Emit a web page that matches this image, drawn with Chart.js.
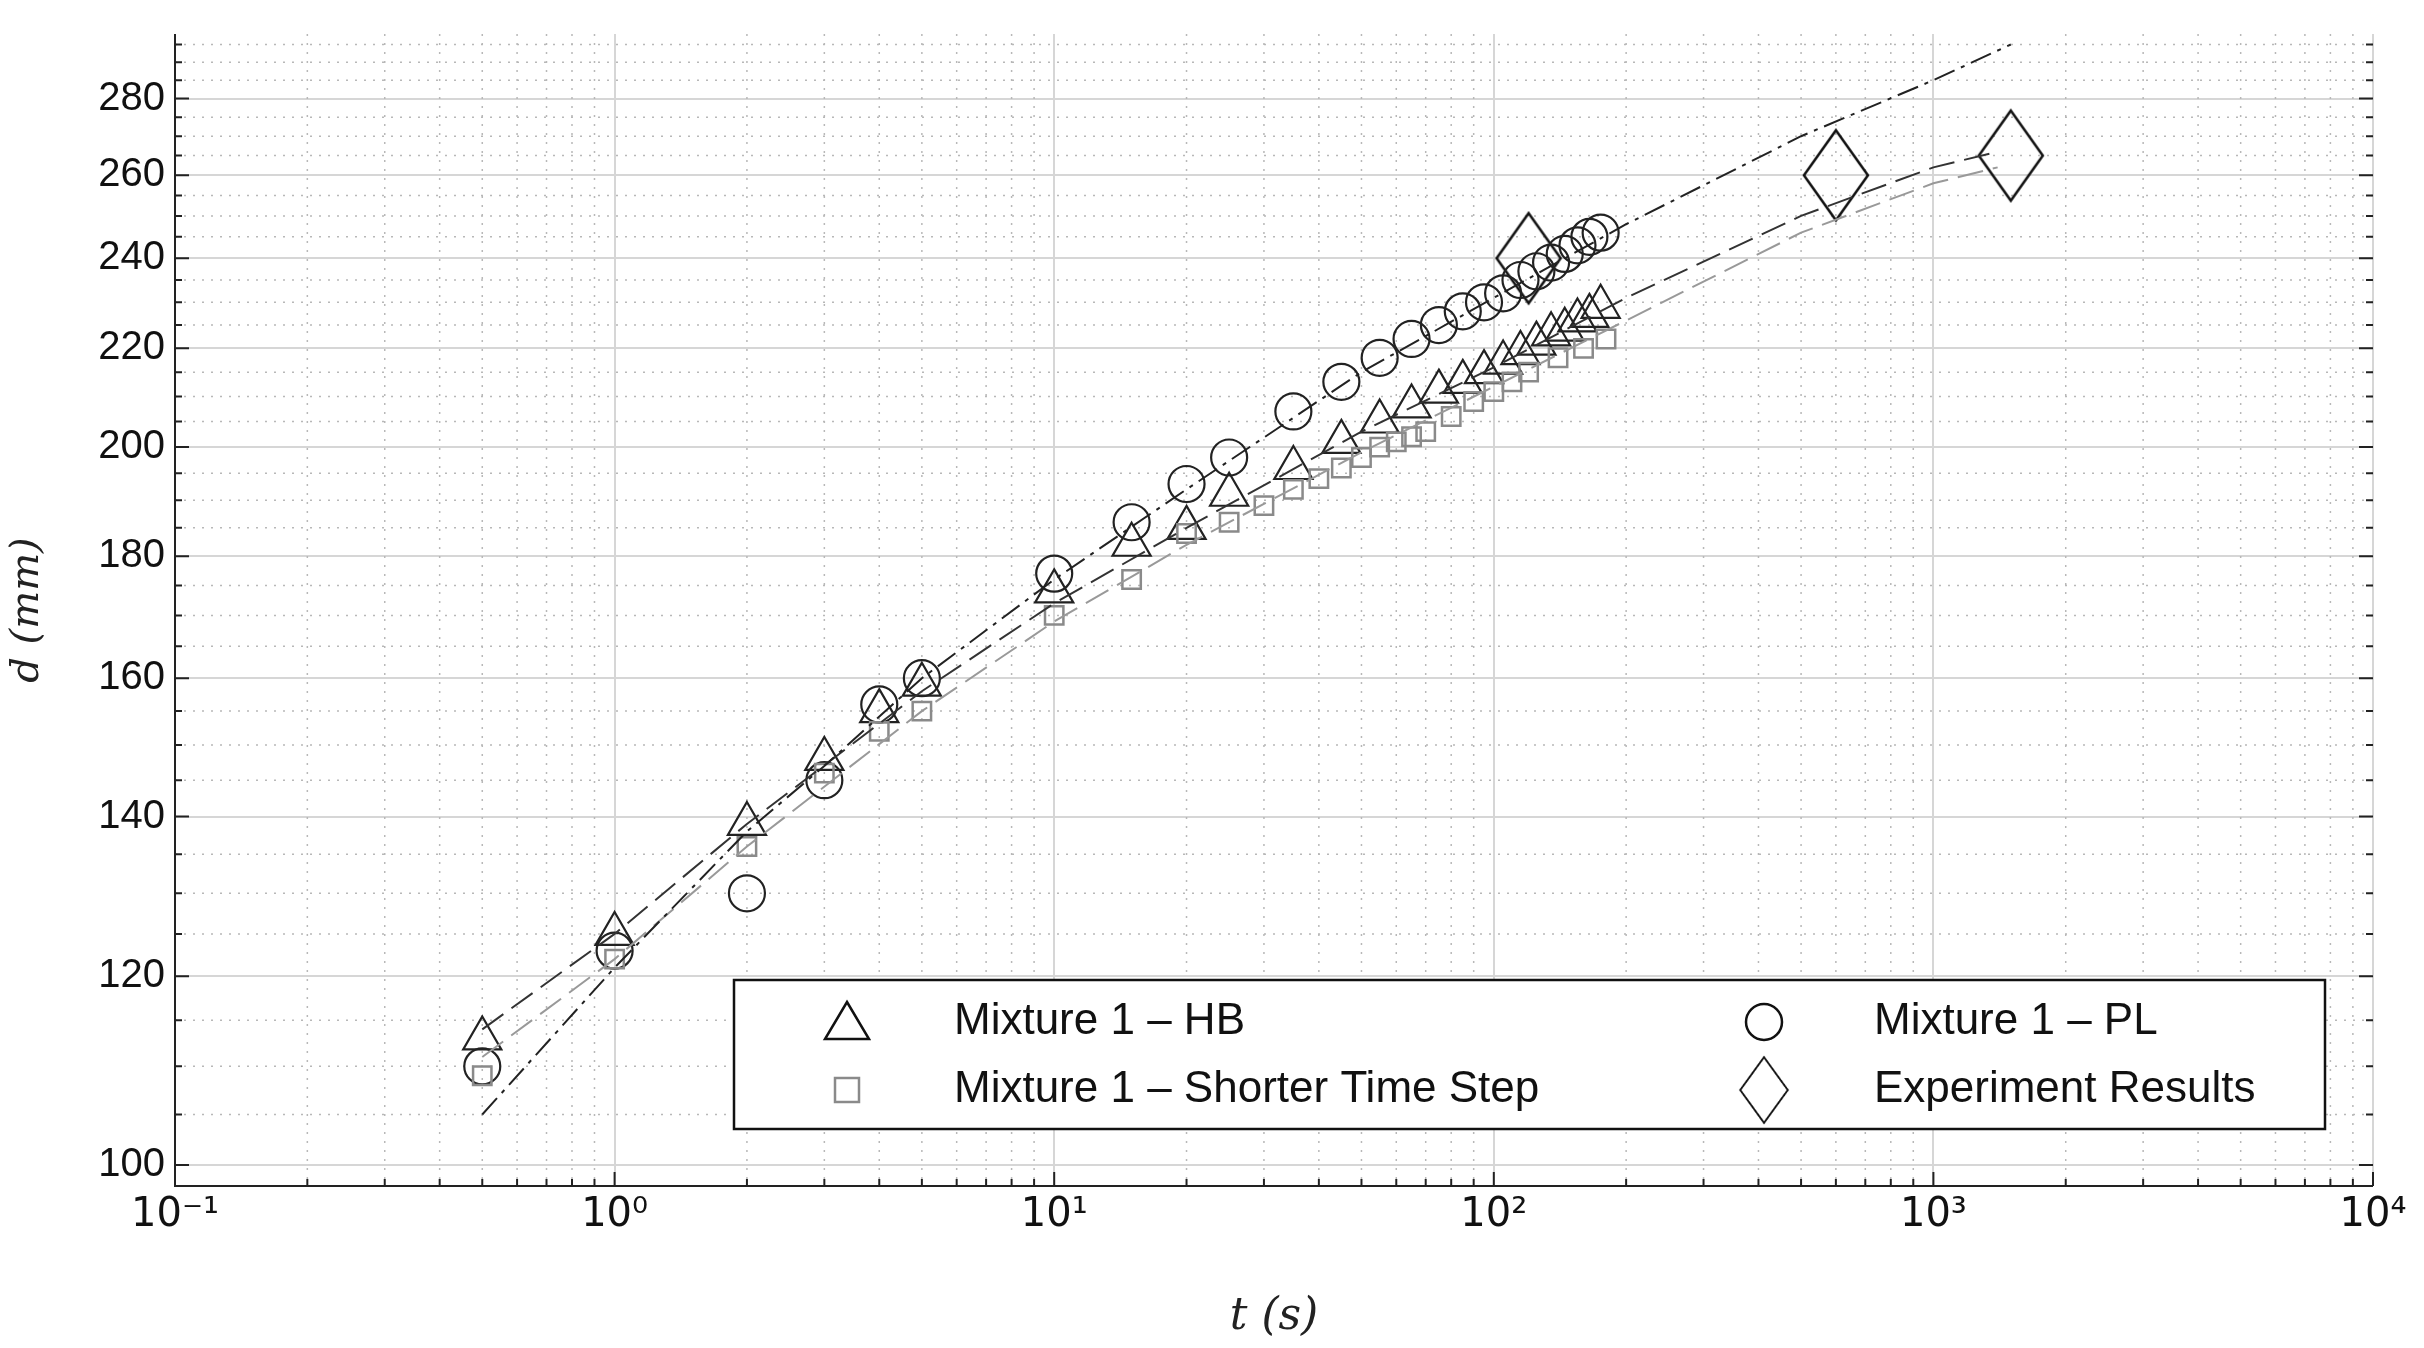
<!DOCTYPE html>
<html><head><meta charset="utf-8">
<script src="https://cdn.jsdelivr.net/npm/chart.js@4/dist/chart.umd.min.js"></script>
<style>html,body{margin:0;padding:0;background:#fff}#c{display:block}</style>
</head><body>
<div style="width:2424px;height:1348px"><canvas id="c"></canvas></div>
<script>
// ---- data ----
const hbT = [0.5,1,2,3,4,5,10,15,20,25,35,45,55,65,75,85,95,105,115,125,135,145,155,165,175];
const hbD = [113,125,139,148,155,159,174,182,185,191,196,201,205,208,211,213,215,217,219,221,223,224,226,227,229];
const stT = [0.5,1,2,3,4,5,10,15,20,25,30,35,40,45,50,55,60,65,70,80,90,100,110,120,140,160,180];
const stD = [109,122,136,146,152,155,170,176,184,186,189,192,194,196,198,200,201,202,203,206,209,211,213,215,218,220,222];
const plT = [0.5,1,2,3,4,5,10,15,20,25,35,45,55,65,75,85,95,105,115,125,135,145,155,165,175];
const plD = [110,123,130,145,156,160,177,186,193,198,207,213,218,222,225,228,230,232,235,237,239,241,243,245,246];
const expT = [120,600,1500];
const expD = [240,260,265];
const plFitT = [0.5,1,2,3,5,10,20,50,100,200,500,1000,1500];
const plFitD = [105,121,138,147,160,176,192,215,231,248,270,285,295];
const hbFitT = [0.5,1,2,5,10,20,50,100,200,500,1000,1400];
const hbFitD = [114,125,139,158,172,185,203,216,231,250,262,266];
const stFitT = [0.5,1,2,5,10,20,50,100,200,500,1000,1400];
const stFitD = [111,122,136,155,169,182,199,212,226,246,258,262];
const yMajor = [100,120,140,160,180,200,220,240,260,280];
const yMinor = [105,110,115,125,130,135,145,150,155,165,170,175,185,190,195,205,210,215,225,230,235,245,250,255,265,270,275,285,290,295];
const xMajor = [0.1,1,10,100,1000,10000];
const xLabels = ['10⁻¹','10⁰','10¹','10²','10³','10⁴'];

const pts = (t,d)=>t.map((v,i)=>({x:v,y:d[i]}));

// diamond marker image
const dia = document.createElement('canvas');
dia.width = 70; dia.height = 96;
(function(){const g=dia.getContext('2d');g.strokeStyle='#111';g.lineWidth=2.5;g.beginPath();
g.moveTo(35,3);g.lineTo(67,48);g.lineTo(35,93);g.lineTo(3,48);g.closePath();g.stroke();})();

const minorGrid = {
  id:'minorGrid',
  beforeDatasetsDraw(chart){
    const {ctx,chartArea:a,scales:{x,y}} = chart;
    ctx.save();
    ctx.strokeStyle='#b8b8b8'; ctx.lineWidth=1.5; ctx.setLineDash([2,7]);
    for(const v of yMinor){const p=y.getPixelForValue(v);ctx.beginPath();ctx.moveTo(a.left,p);ctx.lineTo(a.right,p);ctx.stroke();}
    for(let e=-1;e<4;e++){for(let m=2;m<10;m++){const p=x.getPixelForValue(m*Math.pow(10,e));ctx.beginPath();ctx.moveTo(p,a.top);ctx.lineTo(p,a.bottom);ctx.stroke();}}
    ctx.restore();
  },
  afterDraw(chart){
    const {ctx,chartArea:a,scales:{x,y}} = chart;
    ctx.save();
    ctx.strokeStyle='#222';ctx.lineWidth=2;
    // ticks on axes
    for(const v of yMajor){const p=y.getPixelForValue(v);ctx.beginPath();ctx.moveTo(a.left,p);ctx.lineTo(a.left+14,p);ctx.moveTo(a.right,p);ctx.lineTo(a.right-14,p);ctx.stroke();}
    for(const v of yMinor){const p=y.getPixelForValue(v);ctx.beginPath();ctx.moveTo(a.left,p);ctx.lineTo(a.left+7,p);ctx.moveTo(a.right,p);ctx.lineTo(a.right-7,p);ctx.stroke();}
    for(const v of xMajor){const p=x.getPixelForValue(v);ctx.beginPath();ctx.moveTo(p,a.bottom);ctx.lineTo(p,a.bottom-14);ctx.stroke();}
    for(let e=-1;e<4;e++){for(let m=2;m<10;m++){const p=x.getPixelForValue(m*Math.pow(10,e));ctx.beginPath();ctx.moveTo(p,a.bottom);ctx.lineTo(p,a.bottom-7);ctx.stroke();}}
    ctx.beginPath();ctx.moveTo(a.left,a.top);ctx.lineTo(a.left,a.bottom);ctx.lineTo(a.right,a.bottom);ctx.stroke();
    // legend
    const L=734,T=980,W=1591,H=149;
    ctx.fillStyle='#fff';ctx.fillRect(L,T,W,H);
    ctx.strokeStyle='#111';ctx.lineWidth=2.5;ctx.strokeRect(L,T,W,H);
    ctx.font='44px "Liberation Sans", Arial, sans-serif';ctx.fillStyle='#111';ctx.textBaseline='middle';
    const items=[
      {mx:847,tx:954,y:1022,t:'Mixture 1 – HB',k:'tri'},
      {mx:847,tx:954,y:1090,t:'Mixture 1 – Shorter Time Step',k:'sq'},
      {mx:1764,tx:1874,y:1022,t:'Mixture 1 – PL',k:'cir'},
      {mx:1764,tx:1874,y:1090,t:'Experiment Results',k:'dia'}];
    for(const it of items){
      ctx.fillStyle='#111';ctx.fillText(it.t,it.tx,it.y);
      ctx.lineWidth=2.5;
      if(it.k==='tri'){ctx.strokeStyle='#111';ctx.beginPath();ctx.moveTo(it.mx,it.y-20);ctx.lineTo(it.mx+22,it.y+17);ctx.lineTo(it.mx-22,it.y+17);ctx.closePath();ctx.stroke();}
      if(it.k==='sq'){ctx.strokeStyle='#8a8a8a';ctx.strokeRect(it.mx-12,it.y-12,24,24);}
      if(it.k==='cir'){ctx.strokeStyle='#111';ctx.beginPath();ctx.arc(it.mx,it.y,18,0,Math.PI*2);ctx.stroke();}
      if(it.k==='dia'){ctx.drawImage(dia,it.mx-26,it.y-35,52,70);}
    }
    ctx.restore();
  }
};

new Chart(document.getElementById('c'),{
  type:'scatter',
  data:{datasets:[
    {label:'PL fit',type:'line',data:pts(plFitT,plFitD),borderColor:'#222',borderWidth:2,borderDash:[22,7,4,7],pointRadius:0,fill:false},
    {label:'HB fit',type:'line',data:pts(hbFitT,hbFitD),borderColor:'#333',borderWidth:2,borderDash:[26,10],pointRadius:0,fill:false},
    {label:'ST fit',type:'line',data:pts(stFitT,stFitD),borderColor:'#999',borderWidth:2,borderDash:[26,10],pointRadius:0,fill:false},
    {label:'Mixture 1 – Shorter Time Step',data:pts(stT,stD),pointStyle:'rect',pointRadius:13,borderColor:'#8a8a8a',backgroundColor:'rgba(0,0,0,0)',borderWidth:2.5},
    {label:'Mixture 1 – HB',data:pts(hbT,hbD),pointStyle:'triangle',pointRadius:22,borderColor:'#222',backgroundColor:'rgba(0,0,0,0)',borderWidth:2.2},
    {label:'Mixture 1 – PL',data:pts(plT,plD),pointStyle:'circle',pointRadius:18,borderColor:'#222',backgroundColor:'rgba(0,0,0,0)',borderWidth:2.2},
    {label:'Experiment Results',data:pts(expT,expD),pointStyle:dia,pointRadius:30,borderColor:'#111'}
  ]},
  options:{
    responsive:true,maintainAspectRatio:false,animation:false,
    layout:{padding:{top:34,right:51,left:0,bottom:0}},
    plugins:{legend:{display:false},tooltip:{enabled:false}},
    scales:{
      x:{type:'logarithmic',min:0.1,max:10000,
        afterBuildTicks:s=>{s.ticks=xMajor.map(v=>({value:v}));},
        afterFit:s=>{s.height=162;},
        ticks:{autoSkip:false,maxRotation:0,padding:6,color:'#111',font:{size:40,family:'"DejaVu Sans", sans-serif'},callback:(v,i)=>xLabels[i]},
        grid:{color:'#d6d6d6',lineWidth:2,drawTicks:false},border:{display:false},
        title:{display:true,text:'t (s)',color:'#222',font:{size:44,family:'"DejaVu Serif", serif',style:'italic'},padding:{top:4}}},
      y:{type:'logarithmic',min:98,max:298,
        afterBuildTicks:s=>{s.ticks=yMajor.map(v=>({value:v}));},
        afterFit:s=>{s.width=175;},
        ticks:{autoSkip:false,padding:10,color:'#111',font:{size:40,family:'"Liberation Sans", Arial, sans-serif'},callback:v=>String(v)},
        grid:{color:'#d6d6d6',lineWidth:2,drawTicks:false},border:{display:false},
        title:{display:true,text:'d (mm)',color:'#222',font:{size:40,family:'"DejaVu Serif", serif',style:'italic'},padding:{bottom:4}}}
    }
  },
  plugins:[minorGrid]
});
</script>
</body></html>
